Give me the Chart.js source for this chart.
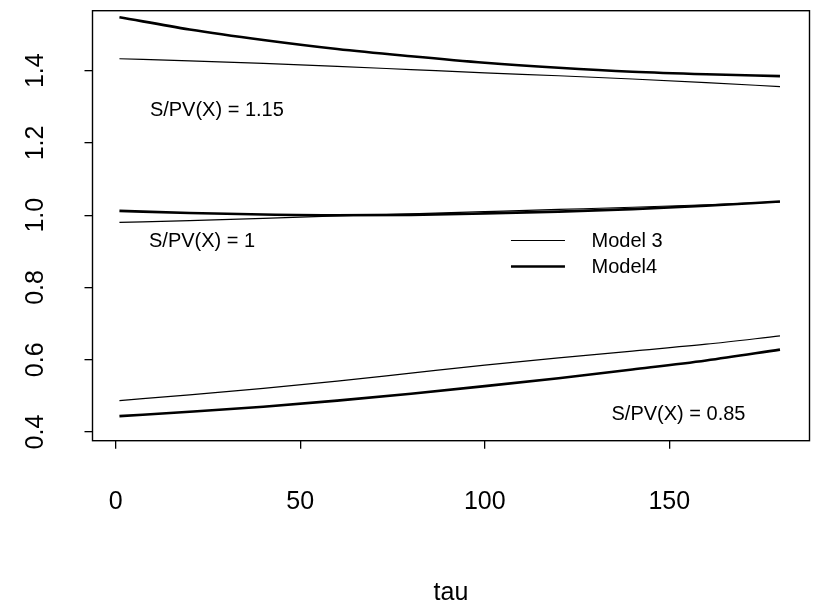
<!DOCTYPE html>
<html>
<head>
<meta charset="utf-8">
<title>tau</title>
<script src="https://cdn.jsdelivr.net/npm/chart.js@4.4.1/dist/chart.umd.min.js"></script>
<style>
  html, body { margin: 0; padding: 0; background: #fff; }
  canvas { display: block; }
</style>
</head>
<body>
<canvas id="tauChart" width="825" height="610"></canvas>
<script>
const tau = [1, 20, 40, 60, 80, 100, 120, 140, 160, 180];

// S/PV(X) = 1.15
const model3High = [1.433, 1.427, 1.420, 1.412, 1.403, 1.394, 1.386, 1.377, 1.367, 1.356];
const model4High = [1.548, 1.514, 1.485, 1.460, 1.440, 1.422, 1.408, 1.397, 1.390, 1.385];
// S/PV(X) = 1
const model3Mid = [0.980, 0.985, 0.991, 0.998, 1.004, 1.010, 1.016, 1.022, 1.029, 1.037];
const model4Mid = [1.012, 1.006, 1.002, 1.000, 1.001, 1.005, 1.010, 1.017, 1.026, 1.038];
// S/PV(X) = 0.85
const model3Low = [0.487, 0.503, 0.521, 0.541, 0.563, 0.585, 0.605, 0.624, 0.643, 0.666];
const model4Low = [0.444, 0.456, 0.470, 0.487, 0.506, 0.527, 0.549, 0.573, 0.598, 0.628];

const xTicks = [0, 50, 100, 150];
const yTicks = [0.4, 0.6, 0.8, 1.0, 1.2, 1.4];
const seriesNames = ['Model 3', 'Model4'];
const noteLabels = ['S/PV(X) = 1.15', 'S/PV(X) = 1', 'S/PV(X) = 0.85'];

const FONT = '"Liberation Sans", Arial, Helvetica, sans-serif';
const THIN = 1.2;
const THICK = 2.6;

function pairs(values) {
    return tau.map((t, i) => ({ x: t, y: values[i] }));
}

function curve(name, values, width) {
    return {
        label: name,
        data: pairs(values),
        borderColor: '#000',
        borderWidth: width,
        pointRadius: 0,
        fill: false
    };
}

// text labels placed in data units
const notes = [
    { text: noteLabels[0], x: 27.4, y: 1.290 },
    { text: noteLabels[1], x: 23.4, y: 0.927 },
    { text: noteLabels[2], x: 152.5, y: 0.448 }
];

// frame round the plot, the S/PV labels and the line key
const plotDecor = {
    id: 'plotDecor',
    afterDatasetsDraw(chart) {
        const { ctx, chartArea: a, scales } = chart;
        const x = scales.x, y = scales.y;
        ctx.save();

        ctx.strokeStyle = '#000';
        ctx.lineWidth = 1.4;
        ctx.strokeRect(a.left, a.top, a.right - a.left, a.bottom - a.top);

        ctx.fillStyle = '#000';
        ctx.font = '20px ' + FONT;
        ctx.textAlign = 'center';
        ctx.textBaseline = 'middle';
        notes.forEach(n => {
            ctx.fillText(n.text, x.getPixelForValue(n.x), y.getPixelForValue(n.y));
        });

        // key: thin line for Model 3, thick for Model4
        const kx = x.getPixelForValue(107.1);
        const ky = y.getPixelForValue(0.930);
        const widths = [THIN, THICK];
        ctx.textAlign = 'left';
        seriesNames.forEach((name, i) => {
            const rowY = ky + i * 26;
            ctx.lineWidth = widths[i];
            ctx.beginPath();
            ctx.moveTo(kx, rowY);
            ctx.lineTo(kx + 54, rowY);
            ctx.stroke();
            ctx.fillText(name, kx + 80.6, rowY + 1);
        });

        ctx.restore();
    }
};

const tickGrid = {
    display: true,
    drawOnChartArea: false,
    drawTicks: true,
    tickLength: 8,
    color: '#000',
    lineWidth: 1.3
};

new Chart(document.getElementById('tauChart'), {
    type: 'line',
    data: {
        datasets: [
            curve(seriesNames[0], model3High, THIN),
            curve(seriesNames[1], model4High, THICK),
            curve(seriesNames[0], model3Mid, THIN),
            curve(seriesNames[1], model4Mid, THICK),
            curve(seriesNames[0], model3Low, THIN),
            curve(seriesNames[1], model4Low, THICK)
        ]
    },
    options: {
        responsive: false,
        animation: false,
        devicePixelRatio: 1,
        layout: { padding: { top: 10.7, right: 15.5, bottom: 0, left: 0 } },
        elements: { line: { cubicInterpolationMode: 'monotone' } },
        plugins: {
            legend: { display: false },
            tooltip: { enabled: false }
        },
        scales: {
            x: {
                type: 'linear',
                min: -6.3,
                max: 188,
                afterBuildTicks: s => { s.ticks = xTicks.map(v => ({ value: v })); },
                afterFit: s => { s.height = 169.3; s.paddingLeft = 0; s.paddingRight = 0; },
                grid: tickGrid,
                border: { display: false },
                ticks: {
                    color: '#000',
                    font: { family: FONT, size: 25 },
                    padding: 38.6,
                    maxRotation: 0,
                    autoSkip: false
                },
                title: {
                    display: true,
                    text: 'tau',
                    color: '#000',
                    font: { family: FONT, size: 25 },
                    padding: { top: 0, bottom: 2 }
                }
            },
            y: {
                type: 'linear',
                min: 0.376,
                max: 1.566,
                afterBuildTicks: s => { s.ticks = yTicks.map(v => ({ value: v })); },
                afterFit: s => { s.width = 92.5; s.paddingTop = 0; s.paddingBottom = 0; },
                grid: tickGrid,
                border: { display: false },
                ticks: {
                    color: '#000',
                    font: { family: FONT, size: 25 },
                    padding: 31.5,
                    minRotation: 90,
                    maxRotation: 90,
                    crossAlign: 'center',
                    autoSkip: false,
                    callback: v => v.toFixed(1)
                }
            }
        }
    },
    plugins: [plotDecor]
});
</script>
</body>
</html>
